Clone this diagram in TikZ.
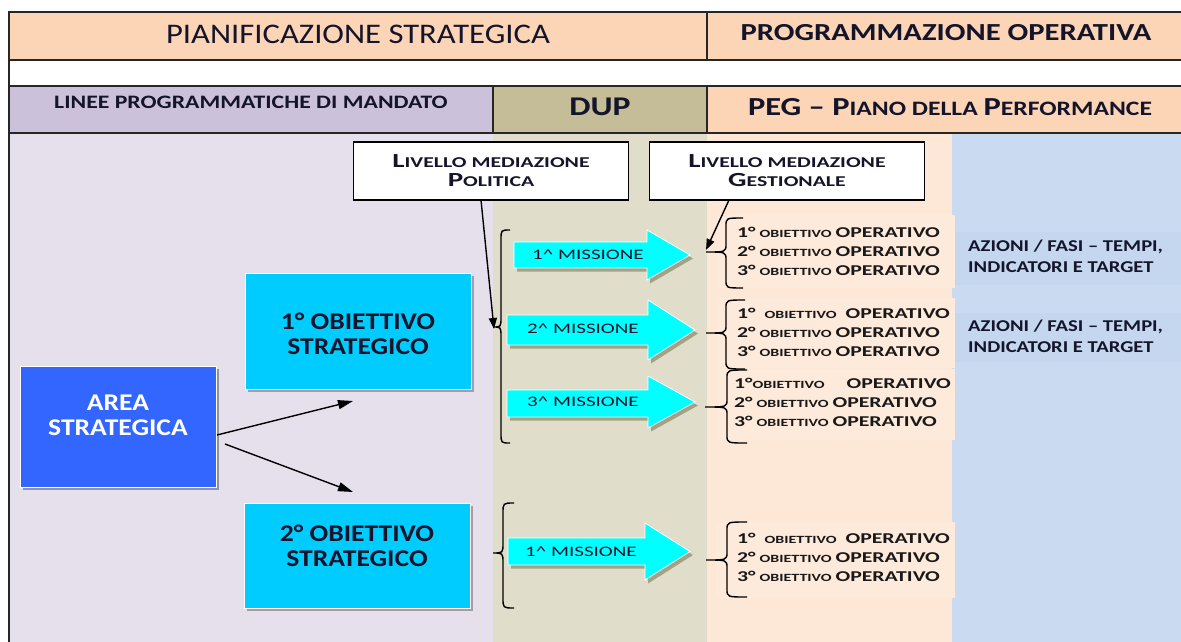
\documentclass[tikz,border=0pt]{standalone}
\usepackage{fontspec}
\setmainfont{Carlito}
\newfontfamily\fA[FakeStretch=1.15]{Carlito}
\newfontfamily\fB[FakeStretch=1.25]{Carlito}
\newfontfamily\fD[FakeStretch=1.45]{Carlito}
\usetikzlibrary{arrows.meta,shadows}
\definecolor{peachtop}{HTML}{FBD5B5}
\definecolor{lavhead}{HTML}{CCC1DA}
\definecolor{khakihead}{HTML}{C4BD97}
\definecolor{lavbg}{HTML}{E6E0EC}
\definecolor{khakibg}{HTML}{E0DDCB}
\definecolor{peachbg}{HTML}{FDE8D7}
\definecolor{peachbox}{HTML}{FDEADB}
\definecolor{bluebg}{HTML}{CADAF0}
\definecolor{blueband}{HTML}{C4D7EF}
\definecolor{cyanbox}{HTML}{00CCFF}
\definecolor{areablue}{HTML}{3366FF}
\definecolor{misscyan}{HTML}{00FFFF}
\definecolor{missshadow}{HTML}{A3A285}
\definecolor{boxshadow}{HTML}{A89AA6}
\definecolor{areashadow}{HTML}{8E93A8}
\definecolor{inktext}{HTML}{14142A}
\newcommand\fsz[2]{\fontsize{#1}{#2}\selectfont}
\newcommand\objl[3]{#1°\hspace{#2}{\fsz{11}{19}OBIETTIVO}\hspace{#3}OPERATIVO}
\newcommand\mybrace[7]{\draw[bracestyle] (#1,#4) .. controls (#2,#4) .. (#2,#4+#7) -- (#2,#5-#7) .. controls (#2,#5) .. (#3,#5) .. controls (#2,#5) .. (#2,#5+#7) -- (#2,#6-#7) .. controls (#2,#6) .. (#1,#6);}
\newcommand\missarrow[7]{\draw[missarrowstyle] (#1,#2) -- (#4,#2) -- (#4,#5) -- (#7,{(#5+#6)/2}) -- (#4,#6) -- (#4,#3) -- (#1,#3) -- cycle;}
\tikzset{
  frameline/.style={draw=black!85, line width=1.4},
  headtext/.style={font=\fB\bfseries, text=inktext, inner sep=0},
  callbox/.style={draw=black, line width=1.6, fill=white, minimum width=275, minimum height=58, inner sep=0, align=center, font=\fD\bfseries\fsz{15}{19}, text=inktext},
  stratbox/.style={fill=cyanbox, draw=white, line width=1, minimum width=226, inner sep=0,
    drop shadow={shadow xshift=3pt, shadow yshift=-3pt, fill=boxshadow, opacity=1}},
  areabox/.style={fill=areablue, draw=white, line width=1, minimum width=196, minimum height=121, inner sep=0,
    drop shadow={shadow xshift=3pt, shadow yshift=-3pt, fill=areashadow, opacity=1}},
  boxtext/.style={font=\fA\bfseries\fsz{24}{25}, align=center, inner sep=0},
  missarrowstyle/.style={fill=misscyan, draw=white, line width=0.8,
    drop shadow={shadow xshift=3pt, shadow yshift=-3.5pt, fill=missshadow, opacity=1}},
  misstext/.style={font=\fD\fsz{14.5}{16}, text=inktext, inner sep=0},
  objtext/.style={font=\fD\bfseries\fsz{15}{19}, align=left, anchor=west, inner sep=0, text=black!90},
  bracestyle/.style={draw=black, line width=1.4},
  azitext/.style={font=\fB\bfseries\fsz{16.5}{21}, align=left, anchor=west, inner sep=0, text=inktext},
  callarrow/.style={draw=black, line width=1.4, -{Triangle[length=11pt,width=8pt]}},
  areaarrow/.style={draw=black, line width=1.4, -{Triangle[length=15pt,width=9pt]}}
}
\begin{document}
\begin{tikzpicture}[x=1pt,y=-1pt]
\useasboundingbox (0,0) rectangle (1181,642);
% column backgrounds
\fill[lavbg] (9,133) rectangle (493,642);
\fill[khakibg] (493,133) rectangle (707,642);
\fill[peachbg] (707,133) rectangle (952,642);
\fill[bluebg] (952,133) rectangle (1181,642);
% faint group boxes
\fill[peachbox] (718,215) rectangle (955,288);
\fill[peachbox] (718,298) rectangle (955,368);
\fill[peachbox] (718,369) rectangle (955,440);
\fill[peachbox] (716,522) rectangle (955,598);
\fill[blueband] (955,232) rectangle (1181,285);
\fill[blueband] (955,313) rectangle (1181,362);
% header rows
\fill[peachtop] (9,12) rectangle (1181,60);
\fill[lavhead] (9,86) rectangle (493,133);
\fill[khakihead] (493,86) rectangle (707,133);
\fill[peachtop] (707,86) rectangle (1181,133);
\draw[frameline] (1181,12) -- (9,12) -- (9,642);
\draw[frameline] (9,60) -- (1181,60);
\draw[frameline] (9,86) -- (1181,86);
\draw[frameline] (9,133) -- (1181,133);
\draw[frameline] (707,12) -- (707,60);
\draw[frameline] (493,86) -- (493,133);
\draw[frameline] (707,86) -- (707,133);
% header texts
\node[font=\fA\fsz{28.4}{30}, text=inktext, inner sep=0] (hps) at (358,34) {PIANIFICAZIONE STRATEGICA};
\node[headtext, font=\fB\bfseries\fsz{24.5}{26}] (hpo) at (946,33) {PROGRAMMAZIONE OPERATIVA};
\node[headtext, font=\fB\bfseries\fsz{19}{20}] (hlp) at (251,102) {LINEE PROGRAMMATICHE DI MANDATO};
\node[headtext, font=\fB\bfseries\fsz{27}{28}] (hdup) at (600,107) {DUP};
\node[headtext, font=\fB\bfseries\fsz{26}{28}] (hpeg) at (950,107) {PEG – P{\fsz{20.5}{28}IANO DELLA }P{\fsz{20.5}{28}ERFORMANCE}};
% callouts
\node[callbox] (pol) at (491,171) {{\fsz{20}{19}L}IVELLO MEDIAZIONE\\{\fsz{20}{19}P}OLITICA};
\node[callbox] (ges) at (787,171) {{\fsz{20}{19}L}IVELLO MEDIAZIONE\\{\fsz{20}{19}G}ESTIONALE};
\coordinate (polfoot) at (481,200);
\coordinate (poltip) at (494,329);
\coordinate (gesfoot) at (729,200);
\coordinate (gestip) at (706,250);
% strategic boxes
\node[areabox] (area) at (118,426.5) {};
\node[boxtext, text=white] (areatxt) at (118,415.5) {AREA\\STRATEGICA};
\node[stratbox, minimum height=116] (os1) at (358,331) {};
\node[boxtext, text=inktext] (os1txt) at (358,333.5) {1° OBIETTIVO\\STRATEGICO};
\node[stratbox, minimum height=105] (os2) at (357,555.5) {};
\node[boxtext, text=inktext] (os2txt) at (357,545.5) {2° OBIETTIVO\\STRATEGICO};
\coordinate (a1s) at (217,435);
\coordinate (a1e) at (353,401);
\coordinate (a2s) at (225,444);
\coordinate (a2e) at (353,492);
\draw[areaarrow] (a1s) -- (a1e);
\draw[areaarrow] (a2s) -- (a2e);
% big braces
\mybrace{510}{501}{493}{230}{327}{443}{10}
\mybrace{514}{503}{493}{503}{553}{608}{10}
% mission arrows
\missarrow{514}{242}{268}{647}{230}{280}{690}
\missarrow{507}{315}{345}{648}{300}{360}{695}
\missarrow{507}{390}{417}{648}{376}{428}{695}
\missarrow{508}{538}{565}{645}{523}{580}{690}
\node[misstext] (m1) at (588,255) {1\^{} MISSIONE};
\node[misstext] (m2) at (583,329) {2\^{} MISSIONE};
\node[misstext] (m3) at (583,402) {3\^{} MISSIONE};
\node[misstext] (m4) at (581,552) {1\^{} MISSIONE};
% callout connectors
\draw[callarrow] (polfoot) -- (poltip);
\draw[callarrow] (gesfoot) -- (gestip);
% small braces
\mybrace{743}{726}{706}{218}{252}{288}{8}
\mybrace{745}{726}{706}{300}{333}{369}{8}
\mybrace{747}{727}{705}{370}{407}{443}{8}
\mybrace{747}{727}{706}{522}{560}{597}{8}
% objectives
\node[objtext] (g1) at (737,251) {\objl{1}{4pt}{4pt}\\\objl{2}{4pt}{4pt}\\\objl{3}{4pt}{4pt}};
\node[objtext] (g2) at (737,332) {\objl{1}{9pt}{9pt}\\\objl{2}{4pt}{4pt}\\\objl{3}{4pt}{4pt}};
\node[objtext] (g3) at (734,402) {\objl{1}{0pt}{22pt}\\\objl{2}{4pt}{4pt}\\\objl{3}{4pt}{4pt}};
\node[objtext] (g4) at (737,557) {\objl{1}{9pt}{9pt}\\\objl{2}{4pt}{4pt}\\\objl{3}{4pt}{4pt}};
% actions
\node[azitext] (az1) at (968,256) {AZIONI / FASI – TEMPI,\\INDICATORI E TARGET};
\node[azitext] (az2) at (968,336) {AZIONI / FASI – TEMPI,\\INDICATORI E TARGET};
\end{tikzpicture}
\end{document}
